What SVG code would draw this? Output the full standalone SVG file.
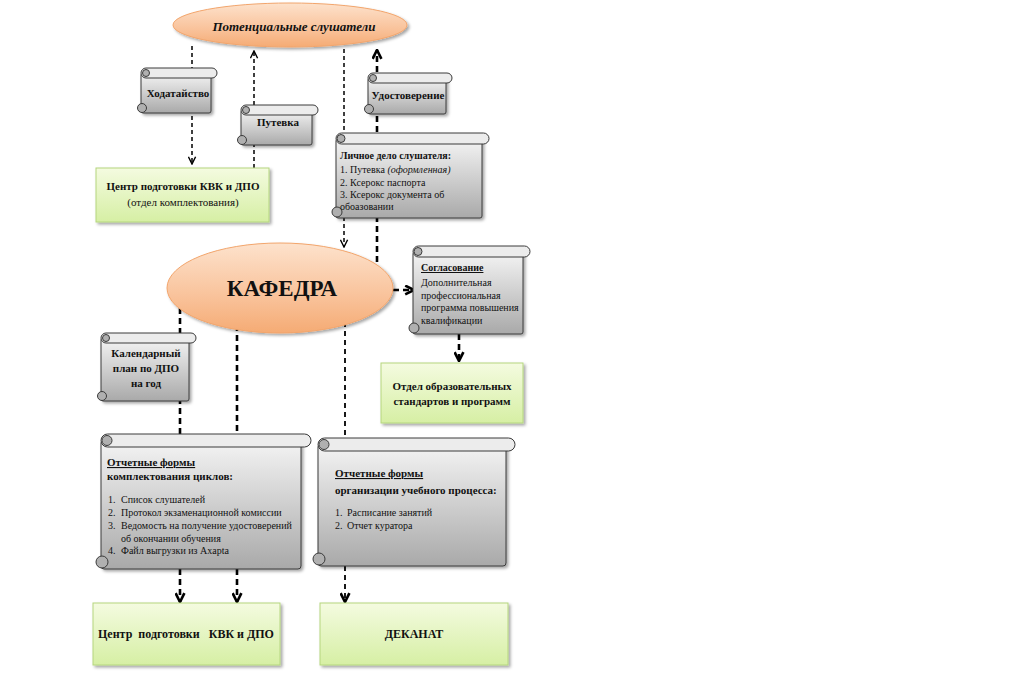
<svg xmlns="http://www.w3.org/2000/svg" width="1024" height="684" viewBox="0 0 1024 684">
<defs>
<linearGradient id="gOr" x1="0" y1="0" x2="0" y2="1"><stop offset="0" stop-color="#fde2cc"/><stop offset="0.6" stop-color="#f9c29a"/><stop offset="1" stop-color="#f5ab74"/></linearGradient>
<linearGradient id="gGr" x1="0" y1="0" x2="0" y2="1"><stop offset="0" stop-color="#f4fbe0"/><stop offset="1" stop-color="#d6efa4"/></linearGradient>
<linearGradient id="gSc" x1="0" y1="0" x2="0" y2="1"><stop offset="0" stop-color="#f4f4f4"/><stop offset="1" stop-color="#a9a9a9"/></linearGradient>
<filter id="sh" x="-10%" y="-10%" width="130%" height="130%"><feDropShadow dx="2" dy="2" stdDeviation="1.5" flood-color="#000" flood-opacity="0.35"/></filter>
<marker id="aT" viewBox="0 0 10 10" refX="9" refY="5" markerWidth="9" markerHeight="9" markerUnits="userSpaceOnUse" orient="auto"><path d="M1,1 L9,5 L1,9" fill="none" stroke="#000" stroke-width="1.6"/></marker>
<marker id="aK" viewBox="0 0 10 10" refX="9" refY="5" markerWidth="11" markerHeight="11" markerUnits="userSpaceOnUse" orient="auto"><path d="M1,1 L9,5 L1,9" fill="none" stroke="#000" stroke-width="2.4"/></marker>
<style>
.thin{fill:none;stroke:#000;stroke-width:1.5;stroke-dasharray:4 3;marker-end:url(#aT)}
.thick{fill:none;stroke:#000;stroke-width:2.6;stroke-dasharray:6 4;marker-end:url(#aK)}
.thickn{fill:none;stroke:#000;stroke-width:2.6;stroke-dasharray:6 4}
.med{fill:none;stroke:#000;stroke-width:1.8;stroke-dasharray:5 4;marker-end:url(#aK)}
.medn{fill:none;stroke:#000;stroke-width:1.8;stroke-dasharray:5 4}
.ell{fill:url(#gOr);stroke:#f2a56c;stroke-width:1;filter:url(#sh)}
.box{fill:url(#gGr);stroke:#b5d67e;stroke-width:1;filter:url(#sh)}
.sb{fill:url(#gSc);stroke:#3a3a3a;stroke-width:1;filter:url(#sh)}
.sr{fill:#ececec;stroke:#3a3a3a;stroke-width:1}
.sc{fill:#b0b0b0;stroke:#3a3a3a;stroke-width:1}
text{font-family:"Liberation Serif","Times New Roman",serif;fill:#111}
.b{font-weight:bold}
.c{text-anchor:middle}
.s11{font-size:11px}
.s10{font-size:10px}
.u{text-decoration:underline}
</style>
</defs>

<g id="connectors">
<path class="thin" d="M192,46 L192,164"/>
<path class="thin" d="M254,168 L254,51"/>
<path class="thin" d="M344,49 L344,247"/>
<path class="thick" d="M377,262 L377,50"/>
<path class="thick" d="M393,290 L414,290"/>
<path class="thick" d="M459,334 L459,361"/>
<path class="thickn" d="M180,308 L180,434"/>
<path class="thick" d="M180,569 L180,602"/>
<path class="thickn" d="M237,325 L237,434"/>
<path class="thick" d="M237,569 L237,602"/>
<path class="medn" d="M345,322 L345,438"/>
<path class="med" d="M345,566 L345,602"/>
</g>

<g id="potential">
<ellipse class="ell" cx="290" cy="25" rx="117" ry="22"/>
<text x="294" y="31" class="c b" font-size="13" font-style="italic">Потенциальные слушатели</text>
</g>

<g id="hodataistvo">
<rect class="sb" x="141" y="73" width="70" height="40" rx="2"/>
<rect class="sr" x="141" y="68" width="76" height="10" rx="5"/>
<circle class="sc" cx="146" cy="73" r="3.5"/>
<circle class="sc" cx="142" cy="108" r="4.5"/>
<text x="178" y="97" class="c b s11">Ходатайство</text>
</g>

<g id="putevka">
<rect class="sb" x="241" y="110" width="71" height="35" rx="2"/>
<rect class="sr" x="241" y="105" width="77" height="10" rx="5"/>
<circle class="sc" cx="246" cy="110" r="3.5"/>
<circle class="sc" cx="242" cy="140" r="4.5"/>
<text x="278" y="126" class="c b s11">Путевка</text>
</g>

<g id="udostoverenie">
<rect class="sb" x="368" y="78" width="78" height="36" rx="2"/>
<rect class="sr" x="368" y="73" width="84" height="10" rx="5"/>
<circle class="sc" cx="373" cy="78" r="3.5"/>
<circle class="sc" cx="369" cy="109" r="4.5"/>
<text x="408" y="99" class="c b s11">Удостоверение</text>
</g>

<g id="centr-top">
<rect class="box" x="96" y="168" width="173" height="54"/>
<text x="183" y="190" class="c b s11">Центр подготовки КВК и ДПО</text>
<text x="183" y="206" class="c s11">(отдел комплектования)</text>
</g>

<g id="lichnoe-delo">
<rect class="sb" x="336" y="139" width="146" height="79" rx="2"/>
<rect class="sr" x="336" y="133" width="153" height="11" rx="5.5"/>
<circle class="sc" cx="341" cy="138.5" r="4"/>
<circle class="sc" cx="337" cy="212" r="5"/>
<text x="340" y="159" class="b s10">Личное дело слушателя:</text>
<text x="340" y="173" class="s10">1. Путевка <tspan font-style="italic">(оформленная)</tspan></text>
<text x="340" y="186" class="s10">2. Ксерокс паспорта</text>
<text x="340" y="198" class="s10">3. Ксерокс документа об</text>
<text x="340" y="210" class="s10">обоазовании</text>
</g>

<g id="kafedra">
<ellipse class="ell" cx="280" cy="288" rx="113" ry="45"/>
<text x="282" y="296" class="c b" font-size="23">КАФЕДРА</text>
</g>

<g id="soglasovanie">
<rect class="sb" x="413" y="252" width="110" height="82" rx="2"/>
<rect class="sr" x="413" y="246" width="117" height="11" rx="5.5"/>
<circle class="sc" cx="418" cy="251.5" r="4"/>
<circle class="sc" cx="414" cy="328" r="5"/>
<text x="421" y="271" class="b s10 u">Согласование</text>
<text x="421" y="286" class="s10">Дополнительная</text>
<text x="421" y="299" class="s10">профессиональная</text>
<text x="421" y="311" class="s10">программа повышения</text>
<text x="421" y="324" class="s10">квалификации</text>
</g>

<g id="otdel">
<rect class="box" x="381" y="363" width="142" height="60"/>
<text x="452" y="390" class="c b s11">Отдел образовательных</text>
<text x="452" y="405" class="c b s11">стандартов и программ</text>
</g>

<g id="kalendarny">
<rect class="sb" x="101" y="338" width="88" height="63" rx="2"/>
<rect class="sr" x="101" y="333" width="95" height="10" rx="5"/>
<circle class="sc" cx="106" cy="338" r="3.5"/>
<circle class="sc" cx="102" cy="396" r="4.5"/>
<text x="146" y="357" class="c b s11">Календарный</text>
<text x="146" y="372" class="c b s11">план по ДПО</text>
<text x="146" y="387" class="c b s11">на год</text>
</g>

<g id="otchet-kompl">
<rect class="sb" x="101" y="440" width="200" height="129" rx="3"/>
<rect class="sr" x="101" y="434" width="210" height="13" rx="6.5"/>
<circle class="sc" cx="107" cy="440.5" r="5"/>
<circle class="sc" cx="102" cy="562" r="6"/>
<text x="107" y="466" class="b s11 u">Отчетные формы</text>
<text x="107" y="480" class="b s11">комплектования циклов:</text>
<text x="108" y="503" class="s10">1.</text><text x="121" y="503" class="s10">Список слушателей</text>
<text x="108" y="516" class="s10">2.</text><text x="121" y="516" class="s10">Протокол экзаменационной комиссии</text>
<text x="108" y="529" class="s10">3.</text><text x="121" y="529" class="s10">Ведомость на получение удостоверений</text>
<text x="121" y="542" class="s10">об окончании обучения</text>
<text x="108" y="554" class="s10">4.</text><text x="121" y="554" class="s10">Файл выгрузки из Axapta</text>
</g>

<g id="otchet-org">
<rect class="sb" x="318" y="444" width="188" height="122" rx="3"/>
<rect class="sr" x="318" y="438" width="197" height="13" rx="6.5"/>
<circle class="sc" cx="324" cy="444.5" r="5"/>
<circle class="sc" cx="319" cy="559" r="6"/>
<text x="335" y="477" class="b s11 u">Отчетные формы</text>
<text x="335" y="494" class="b s11">организации учебного процесса:</text>
<text x="335" y="516" class="s10">1.</text><text x="347" y="516" class="s10">Расписание занятий</text>
<text x="335" y="529" class="s10">2.</text><text x="347" y="529" class="s10">Отчет куратора</text>
</g>

<g id="centr-bottom">
<rect class="box" x="93" y="603" width="187" height="62"/>
<text x="186" y="638" class="c b" font-size="12" xml:space="preserve">Центр  подготовки   КВК и ДПО</text>
</g>

<g id="dekanat">
<rect class="box" x="320" y="603" width="188" height="62"/>
<text x="414" y="638" class="c b" font-size="12">ДЕКАНАТ</text>
</g>
</svg>
